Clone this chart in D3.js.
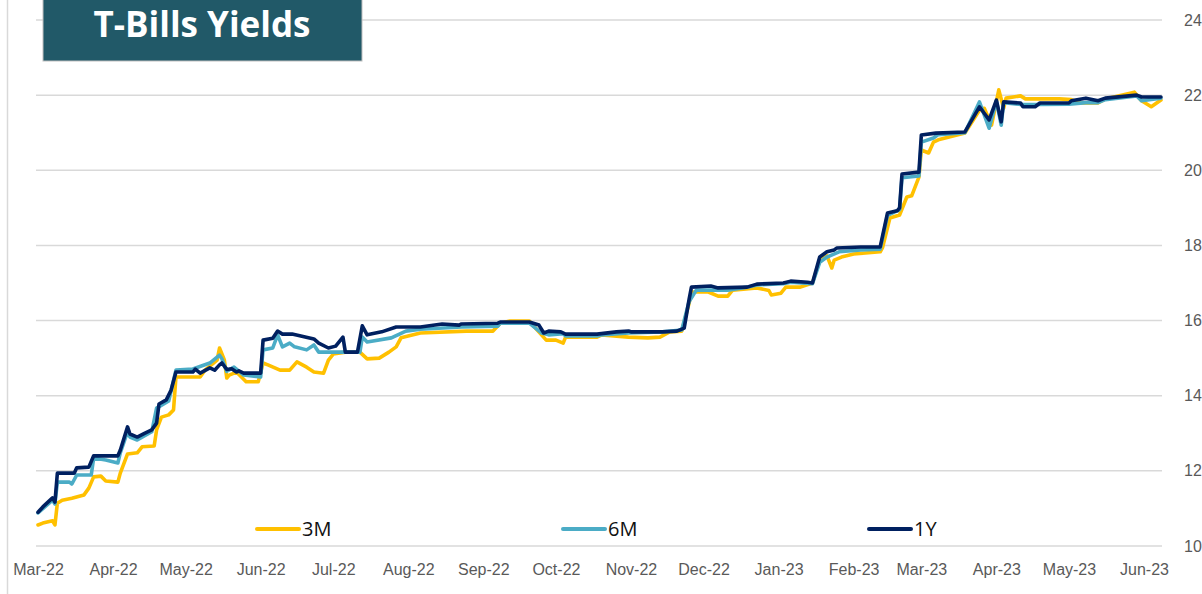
<!DOCTYPE html>
<html>
<head>
<meta charset="utf-8">
<script src="https://cdn.jsdelivr.net/npm/d3@7"></script>
<style>
  html, body { margin: 0; padding: 0; background: #fff; }
  svg { display: block; font-family: "Open Sans", "DejaVu Sans", sans-serif; }
  .axis text { fill: #595959; font-size: 16px; }
  .axis path, .axis line { display: none; }
</style>
</head>
<body>
<svg id="chart" width="1202" height="594"></svg>
<script>
// series: [date, yield %]
var series3M = [
  ["2022-03-01", 10.56], ["2022-03-03", 10.61], ["2022-03-07", 10.67], ["2022-03-08", 10.56],
  ["2022-03-09", 11.14], ["2022-03-11", 11.22], ["2022-03-15", 11.27], ["2022-03-20", 11.36],
  ["2022-03-22", 11.54], ["2022-03-24", 11.84], ["2022-03-27", 11.86], ["2022-03-29", 11.73],
  ["2022-04-03", 11.70], ["2022-04-04", 11.94], ["2022-04-07", 12.45], ["2022-04-11", 12.48],
  ["2022-04-13", 12.64], ["2022-04-18", 12.66], ["2022-04-19", 13.09], ["2022-04-21", 13.43],
  ["2022-04-24", 13.49], ["2022-04-26", 13.62], ["2022-04-27", 14.50], ["2022-05-07", 14.50],
  ["2022-05-09", 14.68], ["2022-05-14", 14.95], ["2022-05-15", 15.27], ["2022-05-17", 14.95],
  ["2022-05-18", 14.47], ["2022-05-19", 14.55], ["2022-05-22", 14.63], ["2022-05-26", 14.37],
  ["2022-05-31", 14.37], ["2022-06-02", 14.87], ["2022-06-04", 14.82], ["2022-06-09", 14.68],
  ["2022-06-13", 14.68], ["2022-06-16", 14.90], ["2022-06-20", 14.76], ["2022-06-23", 14.63],
  ["2022-06-27", 14.60], ["2022-06-29", 14.95], ["2022-07-01", 15.11], ["2022-07-06", 15.16],
  ["2022-07-12", 15.16], ["2022-07-15", 14.98], ["2022-07-20", 15.00], ["2022-07-24", 15.16],
  ["2022-07-27", 15.30], ["2022-07-29", 15.54], ["2022-08-06", 15.67], ["2022-08-25", 15.72],
  ["2022-09-05", 15.72], ["2022-09-08", 15.93], ["2022-09-12", 15.99], ["2022-09-20", 15.99],
  ["2022-09-23", 15.77], ["2022-09-27", 15.48], ["2022-10-01", 15.48], ["2022-10-04", 15.40],
  ["2022-10-05", 15.56], ["2022-10-18", 15.56], ["2022-10-20", 15.62], ["2022-10-31", 15.56],
  ["2022-11-08", 15.54], ["2022-11-13", 15.56], ["2022-11-17", 15.70], ["2022-11-22", 15.72],
  ["2022-11-25", 16.45], ["2022-11-26", 16.76], ["2022-12-03", 16.76], ["2022-12-07", 16.65],
  ["2022-12-11", 16.65], ["2022-12-13", 16.81], ["2022-12-23", 16.87], ["2022-12-28", 16.80],
  ["2022-12-29", 16.68], ["2023-01-02", 16.73], ["2023-01-04", 16.89], ["2023-01-10", 16.89],
  ["2023-01-15", 17.00], ["2023-01-18", 17.61], ["2023-01-21", 17.72], ["2023-01-23", 17.40],
  ["2023-01-24", 17.61], ["2023-01-27", 17.69], ["2023-02-01", 17.77], ["2023-02-12", 17.83],
  ["2023-02-13", 17.95], ["2023-02-16", 18.73], ["2023-02-20", 18.81], ["2023-02-23", 19.29],
  ["2023-02-25", 19.32], ["2023-02-28", 19.82], ["2023-03-01", 20.54], ["2023-03-04", 20.46],
  ["2023-03-06", 20.75], ["2023-03-08", 20.81], ["2023-03-19", 20.99], ["2023-03-25", 21.60],
  ["2023-03-27", 21.65], ["2023-03-30", 21.20], ["2023-04-02", 22.14], ["2023-04-04", 21.65],
  ["2023-04-05", 21.92], ["2023-04-11", 21.98], ["2023-04-13", 21.90], ["2023-04-27", 21.90],
  ["2023-05-02", 21.88], ["2023-05-06", 21.79], ["2023-05-13", 21.79], ["2023-05-16", 21.90],
  ["2023-05-28", 22.08], ["2023-05-31", 21.85], ["2023-06-04", 21.69], ["2023-06-08", 21.87]
];
var series6M = [
  ["2022-03-01", 10.88], ["2022-03-07", 11.22], ["2022-03-08", 11.12], ["2022-03-09", 11.70],
  ["2022-03-14", 11.70], ["2022-03-15", 11.65], ["2022-03-17", 11.89], ["2022-03-23", 11.89],
  ["2022-03-24", 12.34], ["2022-03-29", 12.29], ["2022-04-03", 12.21], ["2022-04-04", 12.48],
  ["2022-04-07", 13.04], ["2022-04-08", 12.90], ["2022-04-11", 12.82], ["2022-04-17", 13.04],
  ["2022-04-19", 13.67], ["2022-04-24", 13.86], ["2022-04-27", 14.68], ["2022-05-04", 14.71],
  ["2022-05-11", 14.87], ["2022-05-15", 15.08], ["2022-05-16", 14.98], ["2022-05-18", 14.65],
  ["2022-05-21", 14.76], ["2022-05-25", 14.55], ["2022-06-01", 14.50], ["2022-06-02", 15.22],
  ["2022-06-06", 15.27], ["2022-06-08", 15.62], ["2022-06-10", 15.30], ["2022-06-13", 15.40],
  ["2022-06-15", 15.30], ["2022-06-20", 15.22], ["2022-06-23", 15.35], ["2022-06-25", 15.16],
  ["2022-07-05", 15.16], ["2022-07-12", 15.16], ["2022-07-13", 15.56], ["2022-07-15", 15.43],
  ["2022-07-25", 15.54], ["2022-07-31", 15.72], ["2022-08-06", 15.77], ["2022-08-23", 15.83],
  ["2022-09-07", 15.85], ["2022-09-08", 15.93], ["2022-09-20", 15.93], ["2022-09-25", 15.67],
  ["2022-09-28", 15.62], ["2022-10-04", 15.65], ["2022-10-05", 15.59], ["2022-10-18", 15.59],
  ["2022-10-20", 15.62], ["2022-10-31", 15.67], ["2022-11-14", 15.70], ["2022-11-22", 15.75],
  ["2022-11-25", 16.50], ["2022-11-28", 16.81], ["2022-12-11", 16.81], ["2022-12-19", 16.89],
  ["2022-12-23", 16.95], ["2023-01-03", 16.98], ["2023-01-06", 17.02], ["2023-01-15", 16.98],
  ["2023-01-18", 17.55], ["2023-01-21", 17.69], ["2023-01-26", 17.83], ["2023-02-04", 17.88],
  ["2023-02-12", 17.90], ["2023-02-15", 18.80], ["2023-02-20", 18.95], ["2023-02-21", 19.80],
  ["2023-02-28", 19.85], ["2023-03-01", 20.75], ["2023-03-06", 20.86], ["2023-03-08", 20.95],
  ["2023-03-19", 21.00], ["2023-03-25", 21.82], ["2023-03-29", 21.12], ["2023-04-01", 21.85],
  ["2023-04-03", 21.20], ["2023-04-04", 21.80], ["2023-04-11", 21.75], ["2023-04-19", 21.75],
  ["2023-05-01", 21.76], ["2023-05-08", 21.80], ["2023-05-13", 21.80], ["2023-05-16", 21.88],
  ["2023-05-29", 21.98], ["2023-05-31", 21.85], ["2023-06-08", 21.92]
];
var series1Y = [
  ["2022-03-01", 10.90], ["2022-03-03", 11.04], ["2022-03-07", 11.28], ["2022-03-08", 11.17],
  ["2022-03-09", 11.94], ["2022-03-16", 11.94], ["2022-03-17", 12.08], ["2022-03-22", 12.10],
  ["2022-03-24", 12.40], ["2022-04-03", 12.40], ["2022-04-04", 12.55], ["2022-04-07", 13.17],
  ["2022-04-08", 12.98], ["2022-04-11", 12.90], ["2022-04-14", 13.00], ["2022-04-17", 13.09],
  ["2022-04-19", 13.27], ["2022-04-20", 13.78], ["2022-04-23", 13.89], ["2022-04-25", 14.15],
  ["2022-04-27", 14.63], ["2022-05-04", 14.63], ["2022-05-05", 14.71], ["2022-05-07", 14.60],
  ["2022-05-11", 14.74], ["2022-05-13", 14.68], ["2022-05-15", 14.82], ["2022-05-16", 14.87],
  ["2022-05-18", 14.70], ["2022-05-20", 14.72], ["2022-05-22", 14.63], ["2022-05-23", 14.66],
  ["2022-05-25", 14.60], ["2022-06-01", 14.60], ["2022-06-02", 15.48], ["2022-06-06", 15.53],
  ["2022-06-08", 15.72], ["2022-06-10", 15.64], ["2022-06-14", 15.64], ["2022-06-23", 15.51],
  ["2022-06-25", 15.40], ["2022-06-29", 15.27], ["2022-07-02", 15.32], ["2022-07-05", 15.56],
  ["2022-07-06", 15.16], ["2022-07-11", 15.16], ["2022-07-13", 15.86], ["2022-07-15", 15.62],
  ["2022-07-21", 15.70], ["2022-07-27", 15.83], ["2022-08-06", 15.83], ["2022-08-15", 15.91],
  ["2022-08-22", 15.88], ["2022-08-23", 15.91], ["2022-09-07", 15.93], ["2022-09-08", 15.96],
  ["2022-09-20", 15.96], ["2022-09-24", 15.88], ["2022-09-26", 15.67], ["2022-09-28", 15.72],
  ["2022-10-03", 15.70], ["2022-10-05", 15.64], ["2022-10-18", 15.64], ["2022-10-26", 15.70],
  ["2022-10-31", 15.72], ["2022-11-01", 15.70], ["2022-11-14", 15.70], ["2022-11-20", 15.72],
  ["2022-11-23", 15.80], ["2022-11-25", 16.55], ["2022-11-26", 16.89], ["2022-12-04", 16.92],
  ["2022-12-07", 16.87], ["2022-12-19", 16.89], ["2022-12-23", 16.97], ["2023-01-03", 17.00],
  ["2023-01-06", 17.05], ["2023-01-13", 17.02], ["2023-01-15", 17.00], ["2023-01-18", 17.69],
  ["2023-01-21", 17.83], ["2023-01-24", 17.88], ["2023-01-25", 17.93], ["2023-02-04", 17.96],
  ["2023-02-12", 17.96], ["2023-02-15", 18.86], ["2023-02-19", 18.92], ["2023-02-20", 19.00],
  ["2023-02-21", 19.90], ["2023-02-28", 19.95], ["2023-03-01", 20.94], ["2023-03-07", 20.99],
  ["2023-03-19", 21.02], ["2023-03-25", 21.69], ["2023-03-29", 21.34], ["2023-04-01", 21.87],
  ["2023-04-03", 21.29], ["2023-04-04", 21.82], ["2023-04-11", 21.79], ["2023-04-12", 21.69],
  ["2023-04-17", 21.69], ["2023-04-19", 21.79], ["2023-05-01", 21.79], ["2023-05-02", 21.85],
  ["2023-05-08", 21.92], ["2023-05-13", 21.85], ["2023-05-16", 21.92], ["2023-05-29", 22.00],
  ["2023-05-31", 21.95], ["2023-06-08", 21.95]
];
var seriesNames = ["3M", "6M", "1Y"];
var seriesColors = ["#ffc000", "#4bacc6", "#002060"];
var monthTicks = ["2022-03-01", "2022-04-01", "2022-05-01", "2022-06-01", "2022-07-01",
  "2022-08-01", "2022-09-01", "2022-10-01", "2022-11-01", "2022-12-01", "2023-01-01",
  "2023-02-01", "2023-03-01", "2023-04-01", "2023-05-01", "2023-06-01"];
var yTicks = [10, 12, 14, 16, 18, 20, 22, 24];
var title = "T-Bills Yields";

var parse = d3.timeParse("%Y-%m-%d");
var svg = d3.select("#chart");
var plotL = 36, plotR = 1162, plotT = 20, plotB = 546;

var x = d3.scaleTime()
    .domain([parse("2022-03-01"), parse("2023-06-01")])
    .range([38, 1144]);
var y = d3.scaleLinear().domain([10, 24]).range([plotB, plotT]);

svg.append("rect").attr("width", 1202).attr("height", 594).attr("fill", "#fff");
svg.append("line")
    .attr("x1", 7.5).attr("x2", 7.5).attr("y1", 0).attr("y2", 594)
    .attr("stroke", "#d9d9d9").attr("stroke-width", 1.5);

// gridlines
svg.append("g").selectAll("line")
    .data(yTicks)
  .enter().append("line")
    .attr("x1", plotL).attr("x2", plotR)
    .attr("y1", function (d) { return y(d); })
    .attr("y2", function (d) { return y(d); })
    .attr("stroke", "#d9d9d9").attr("stroke-width", 1.5);

svg.append("g").attr("class", "axis")
    .attr("transform", "translate(0," + plotB + ")")
    .call(d3.axisBottom(x)
        .tickValues(monthTicks.map(parse))
        .tickFormat(d3.timeFormat("%b-%y"))
        .tickSize(0).tickPadding(18));

svg.append("g").attr("class", "axis")
    .attr("transform", "translate(" + plotR + ",0)")
    .call(d3.axisRight(y).tickValues(yTicks).tickSize(0).tickPadding(22));

var line = d3.line()
    .x(function (d) { return x(parse(d[0])); })
    .y(function (d) { return y(d[1]); });

[series3M, series6M, series1Y].forEach(function (s, i) {
    svg.append("path")
        .datum(s)
        .attr("fill", "none")
        .attr("stroke", seriesColors[i])
        .attr("stroke-width", 3.6)
        .attr("stroke-linejoin", "round")
        .attr("stroke-linecap", "round")
        .attr("d", line);
});

// legend
var legendX = [257, 563, 869];
var legend = svg.append("g").selectAll("g")
    .data(seriesNames)
  .enter().append("g")
    .attr("transform", function (d, i) { return "translate(" + legendX[i] + ",529)"; });
legend.append("line")
    .attr("x1", 0).attr("x2", 42)
    .attr("stroke", function (d, i) { return seriesColors[i]; })
    .attr("stroke-width", 4).attr("stroke-linecap", "round");
legend.append("text")
    .attr("x", 45).attr("dy", "0.36em")
    .style("font-size", "20px").style("fill", "#111")
    .text(function (d) { return d; });

// title box
svg.append("rect")
    .attr("x", 43).attr("y", -2).attr("width", 319).attr("height", 63)
    .attr("fill", "#215968").attr("stroke", "#bfbfbf").attr("stroke-width", 1);
svg.append("text")
    .attr("x", 202).attr("y", 37)
    .attr("text-anchor", "middle")
    .style("font-size", "35px").style("font-weight", "bold").style("fill", "#fff")
    .text(title);
</script>
</body>
</html>
